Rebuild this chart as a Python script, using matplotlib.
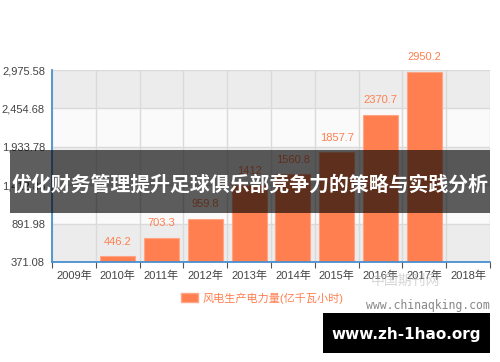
import numpy as np
import matplotlib
matplotlib.use("Agg")
import matplotlib.pyplot as plt
from matplotlib.patches import Rectangle, Patch
from matplotlib.ticker import FixedLocator

plt.rcParams['font.family'] = ['Liberation Sans', 'Noto Sans CJK SC', 'DejaVu Sans']

# data
years = ['2009年', '2010年', '2011年', '2012年', '2013年', '2014年',
         '2015年', '2016年', '2017年', '2018年']
output = [np.nan, 446.2, 703.3, 959.8, 1412, 1560.8, 1857.7, 2370.7, 2950.2, np.nan]
value_labels = ['', '446.2', '703.3', '959.8', '1412', '1560.8', '1857.7', '2370.7', '2950.2', '']
yticks = [371.08, 891.98, 1412.88, 1933.78, 2454.68, 2975.58]
series_name = '风电生产电力量(亿千瓦小时)'
banner = '优化财务管理提升足球俱乐部竞争力的策略与实践分析'

coral = '#ff7f50'
axis_blue = '#4a8fd0'

fig = plt.figure(figsize=(5, 3.62), dpi=100)
ax = fig.add_axes([52 / 500, 1 - 262 / 362, 438 / 500, 192 / 362])

x = np.arange(len(years))
ax.set_xlim(-0.5, len(years) - 0.5)
ax.set_ylim(yticks[0], yticks[-1])

# alternating background bands
for i in range(len(yticks) - 1):
    c = '#ececec' if i % 2 == 0 else '#fafafa'
    ax.axhspan(yticks[i], yticks[i + 1], color=c, zorder=0, lw=0)
for y in yticks:
    ax.axhline(y, color='#dadada', lw=1, zorder=0.5)
for b in np.arange(-0.5, len(years), 1.0):
    ax.axvline(b, color='#dadada', lw=1, zorder=0.5)

bars = ax.bar(x, output, width=0.8, color=coral, edgecolor='#ffa585', linewidth=0.8, zorder=2)
for xi, v, lab in zip(x, output, value_labels):
    if lab:
        ax.annotate(lab, (xi, v), xytext=(0, 7), textcoords='offset points',
                    ha='center', va='bottom', fontsize=8, color=coral)

ax.set_yticks(yticks)
ax.set_yticklabels([f'{v:,.2f}' for v in yticks])
ax.set_xticks(x)
ax.set_xticklabels(years)
ax.xaxis.set_minor_locator(FixedLocator(np.arange(-0.5, len(years), 1.0)))
ax.tick_params(axis='y', length=0, labelsize=8, labelcolor='#444444', pad=5)
ax.tick_params(axis='x', which='major', length=0, labelsize=8, labelcolor='#444444', pad=6)
ax.tick_params(axis='x', which='minor', length=4, color='#555555', width=0.8)

for s in ['top', 'right']:
    ax.spines[s].set_visible(False)
for s in ['left', 'bottom']:
    ax.spines[s].set_color(axis_blue)
    ax.spines[s].set_linewidth(1.3)
    ax.spines[s].set_zorder(3)

fig.legend(handles=[Patch(facecolor=coral, edgecolor='#ffa585', label=series_name)],
           loc='center', bbox_to_anchor=(262 / 500, 1 - 298 / 362), frameon=False,
           fontsize=8, labelcolor=coral, handlelength=1.5, handleheight=0.9,
           handletextpad=0.4)

# watermarks
fig.text(405 / 500, 1 - 281 / 362, '中国期刊网', fontsize=10, color='#bbbbbb', alpha=0.6,
         ha='center', va='center', family=['Noto Sans CJK SC'])
fig.text(428 / 500, 1 - 305 / 362, 'www.chinaqking.com', fontsize=8.3, color='#888888',
         ha='center', va='center', family=['DejaVu Sans Mono'])

# banner overlay
fig.patches.append(Rectangle((10 / 500, 1 - 213 / 362), 480 / 500, 63 / 362,
                             transform=fig.transFigure, facecolor='black', alpha=0.63,
                             lw=0, zorder=10))
fig.text(250 / 500, 1 - 184 / 362, banner, fontsize=14.3, fontweight='bold', color='white',
         ha='center', va='center', family=['Noto Sans CJK SC'], zorder=11)

# site stamp
fig.patches.append(Rectangle((323 / 500, 1 - 353 / 362), 167 / 500, 40 / 362,
                             transform=fig.transFigure, facecolor='black', lw=0, zorder=10))
fig.text(406 / 500, 1 - 334 / 362, 'www.zh-1hao.org', fontsize=11, fontweight='bold',
         color='white', ha='center', va='center', family=['DejaVu Sans'], zorder=11)

fig.savefig('out.png', dpi=100)
